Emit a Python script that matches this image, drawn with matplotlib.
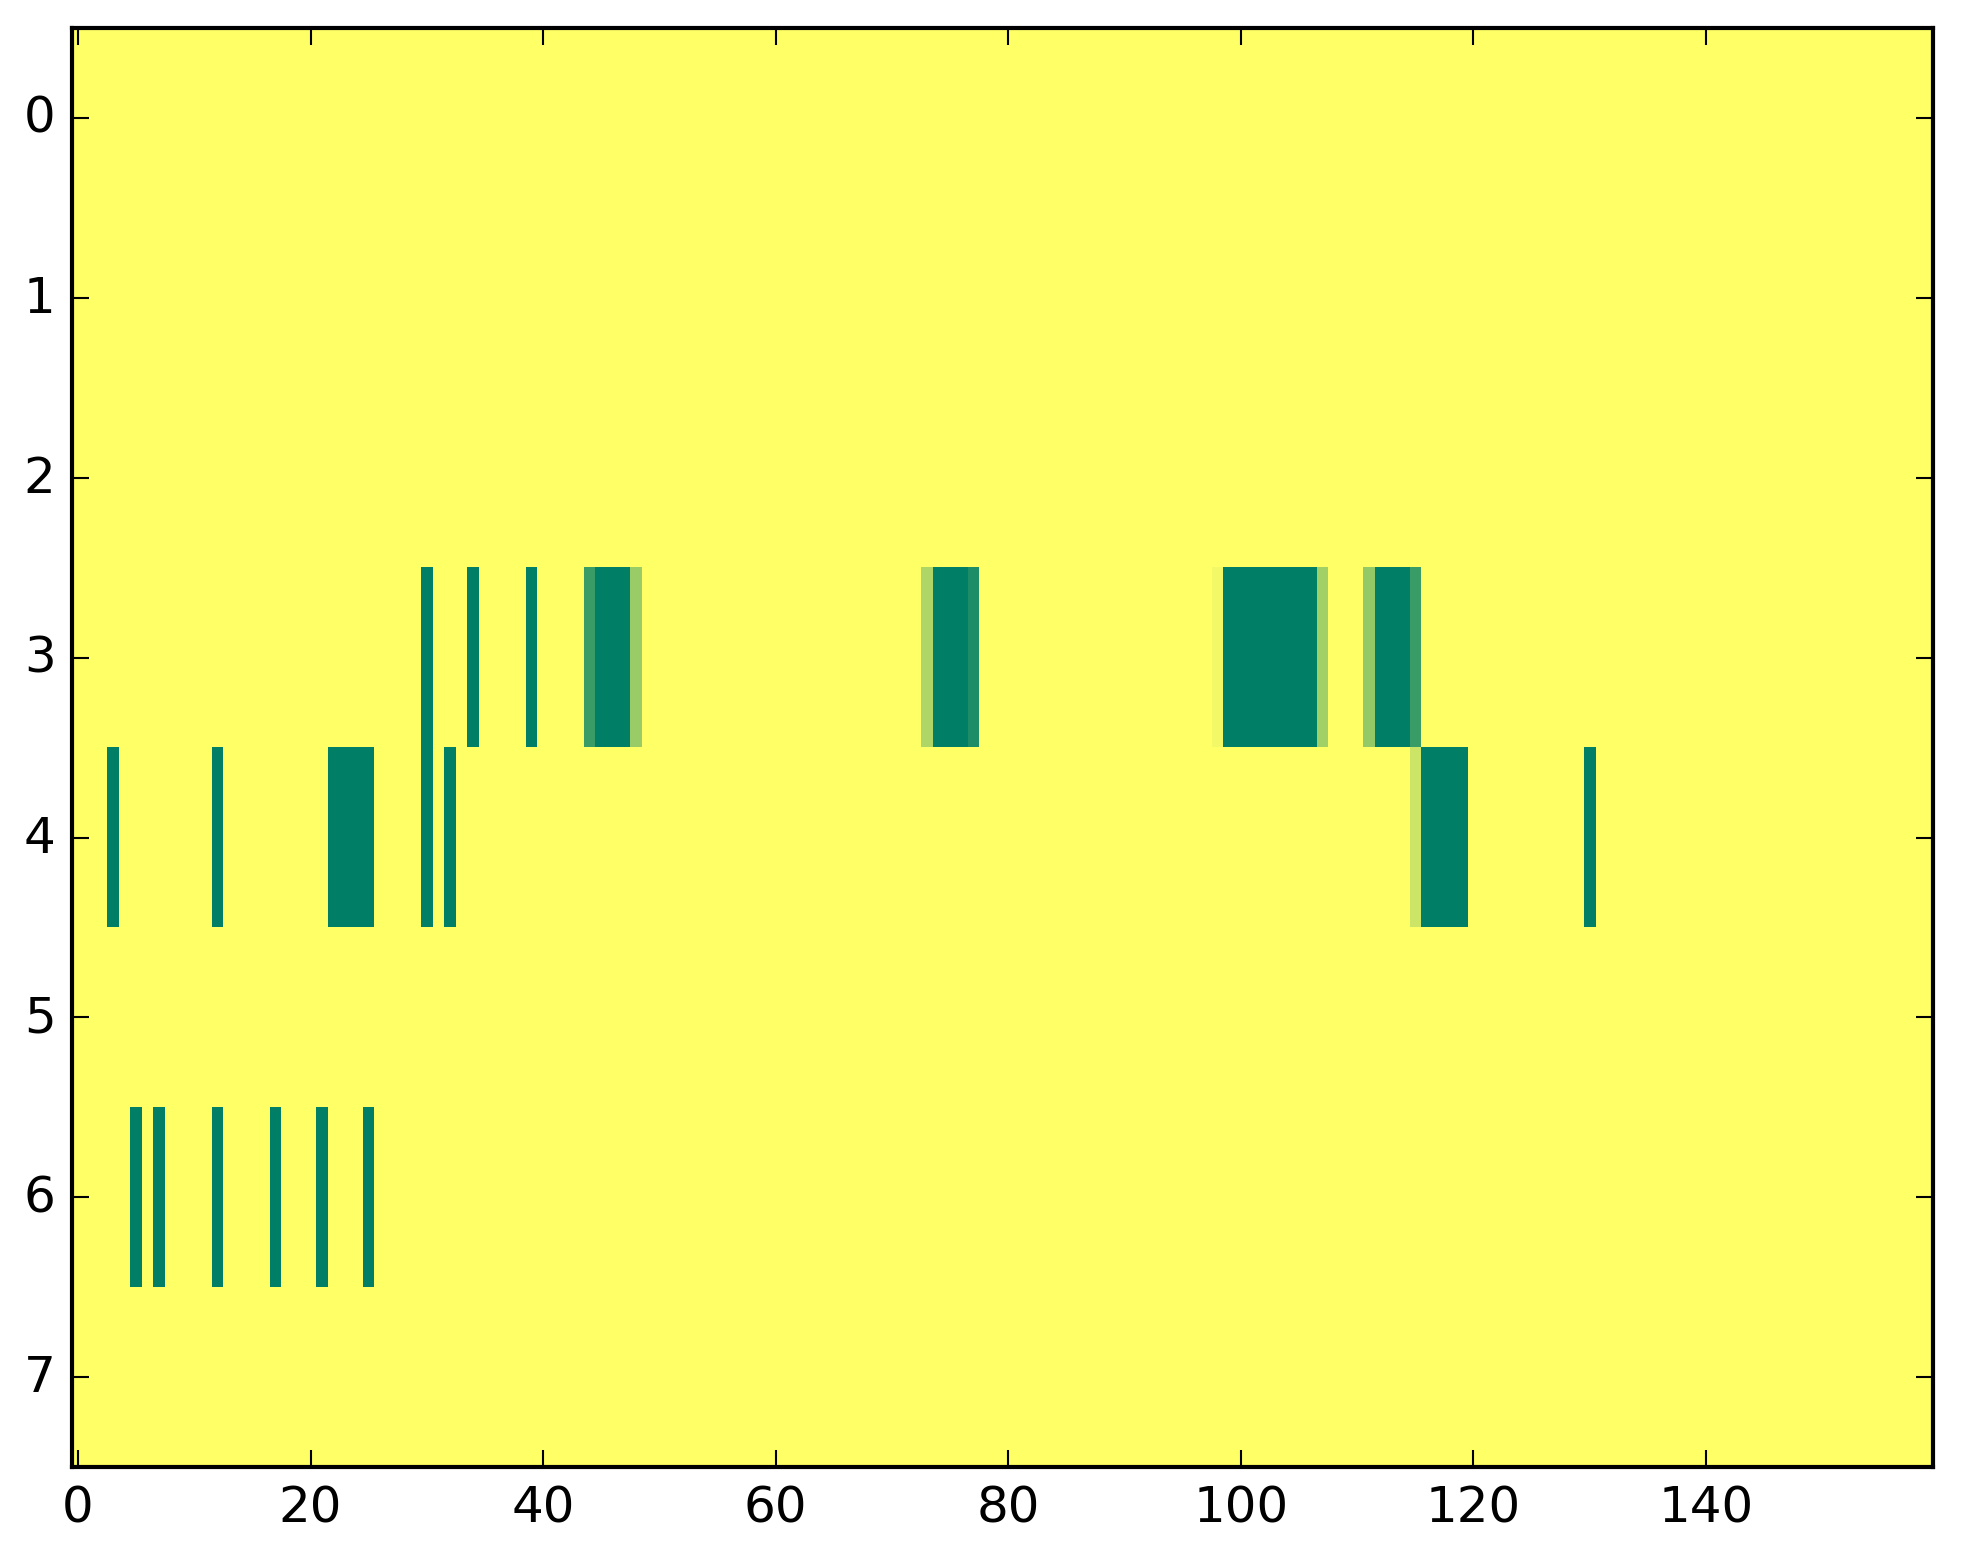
import numpy as np
import matplotlib
matplotlib.use("Agg")
import matplotlib.pyplot as plt

n_rows = 8
n_cols = 160

# row 3
row3_cols = [30, 34, 39, 44, 45, 46, 47, 48, 73, 74, 75, 76, 77,
             98, 99, 100, 101, 102, 103, 104, 105, 106, 107,
             111, 112, 113, 114, 115]
row3_vals = [1, 1, 1, 0.77, 1, 1, 1, 0.4, 0.32, 1, 1, 1, 0.89,
             0.05, 1, 1, 1, 1, 1, 1, 1, 1, 0.37,
             0.42, 1, 1, 1, 0.77]

# row 4
row4_cols = [3, 12, 22, 23, 24, 25, 30, 32, 115, 116, 117, 118, 119, 130]
row4_vals = [1, 1, 1, 1, 1, 1, 1, 1, 0.2, 1, 1, 1, 1, 1]

# row 6
row6_cols = [5, 7, 12, 17, 21, 25]
row6_vals = [1, 1, 1, 1, 1, 1]

grid = np.zeros((n_rows, n_cols))
grid[3, row3_cols] = row3_vals
grid[4, row4_cols] = row4_vals
grid[6, row6_cols] = row6_vals

plt.style.use('classic')
fig = plt.figure(figsize=(1963 / 300, 1564 / 300), dpi=300)
ax = fig.add_axes([0.0368, 0.0612, 0.9477, 0.9203])
ax.imshow(grid, cmap='summer_r', vmin=0, vmax=1,
          interpolation='nearest', aspect='auto')
ax.set_xticks(np.arange(0, 160, 20))
ax.set_yticks(np.arange(0, 8, 1))
ax.set_xlim(-0.5, n_cols - 0.5)
ax.set_ylim(n_rows - 0.5, -0.5)

fig.savefig('out.png', dpi=300)
